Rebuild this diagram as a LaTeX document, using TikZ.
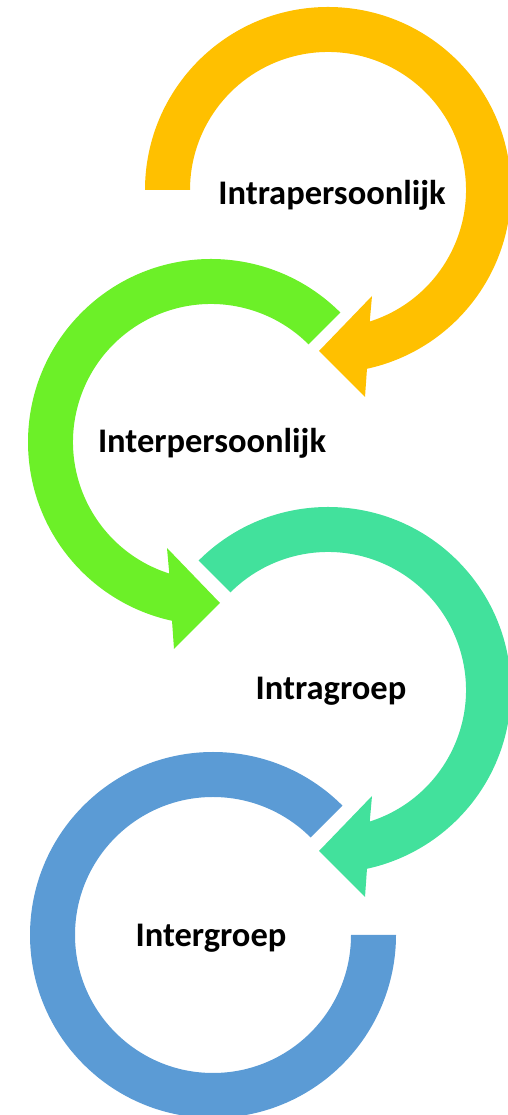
\documentclass[tikz,border=0pt]{standalone}
\usepackage{fontspec}
\setmainfont{Carlito}
\definecolor{ringyellow}{HTML}{FFC000}
\definecolor{ringgreen}{HTML}{6CF028}
\definecolor{ringteal}{HTML}{42E19C}
\definecolor{ringblue}{HTML}{5B9BD5}
\begin{document}
\begin{tikzpicture}[x=1pt,y=1pt,
  lbl/.style={font=\bfseries\fontsize{34.5}{40}\selectfont, anchor=base, inner sep=0pt, text=black}]
\useasboundingbox (0,0) rectangle (508,1115);

% level 1: clockwise ring, head pointing down-left
\begin{scope}[shift={(328,925)}]
  \fill[ringyellow] (180:183) arc[start angle=180,end angle=-77.7,radius=183]
    -- (37,-207) -- (-9,-161) -- (44,-106) -- (-72.4:138)
    arc[start angle=-72.4,end angle=180,radius=138] -- cycle;
\end{scope}

% level 2: counter-clockwise ring, head pointing down-right
\begin{scope}[shift={(211,673)}]
  \fill[ringgreen] (45:183) arc[start angle=45,end angle=257.7,radius=183]
    -- (-37,-207) -- (9,-161) -- (-44,-106) -- (252.4:138)
    arc[start angle=252.4,end angle=45,radius=138] -- cycle;
\end{scope}

% level 3: clockwise ring, head pointing down-left
\begin{scope}[shift={(328,425)}]
  \fill[ringteal] (135:183) arc[start angle=135,end angle=-77.7,radius=183]
    -- (37,-207) -- (-9,-161) -- (44,-106) -- (-72.4:138)
    arc[start angle=-72.4,end angle=135,radius=138] -- cycle;
\end{scope}

% level 4: open ring without head
\begin{scope}[shift={(213,180)}]
  \fill[ringblue] (45:183) arc[start angle=45,end angle=360,radius=183]
    -- (0:138) arc[start angle=360,end angle=45,radius=138] -- cycle;
\end{scope}

\node[lbl] (intrap) at (332,910) {Intrapersoonlijk};
\node[lbl] (interp) at (212,662) {Interpersoonlijk};
\node[lbl] (intrag) at (331,415) {Intragroep};
\node[lbl] (interg) at (211,168) {Intergroep};
\end{tikzpicture}
\end{document}
